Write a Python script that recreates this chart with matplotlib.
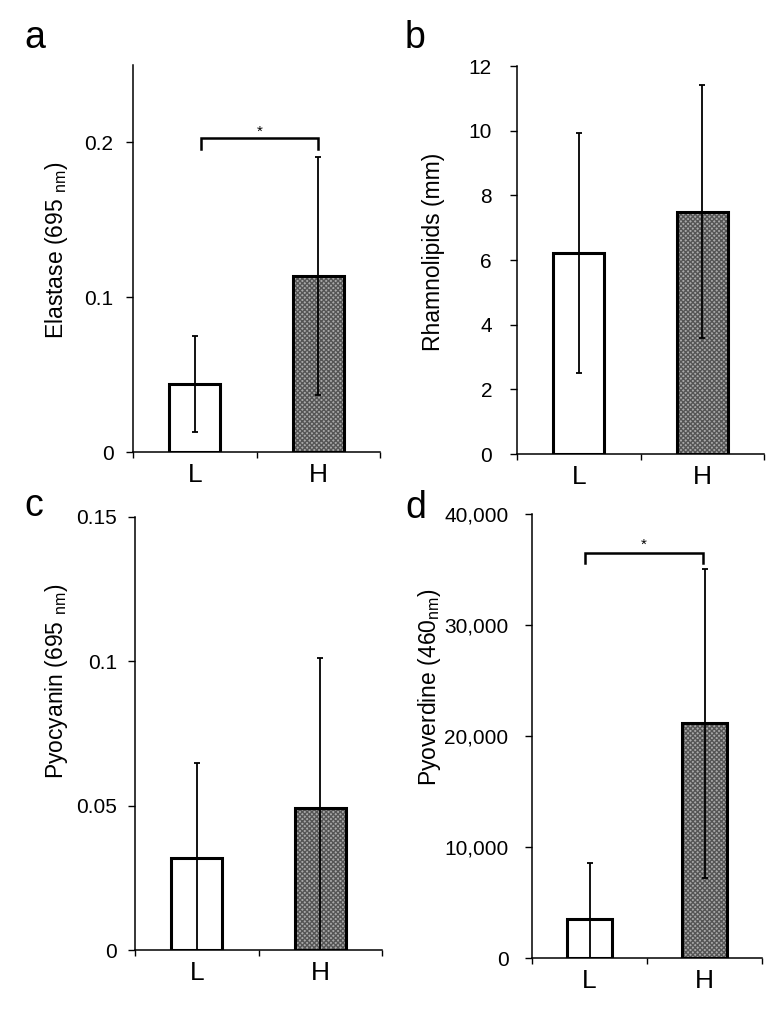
import numpy as np
import matplotlib
matplotlib.use('Agg')
import matplotlib.pyplot as plt
from matplotlib.ticker import FuncFormatter

plt.rcParams['font.family'] = ['Liberation Sans', 'DejaVu Sans']
plt.rcParams['mathtext.default'] = 'regular'

# --- data ---
groups = ['L', 'H']
elastase_mean = [0.0442, 0.1135]
elastase_err = [0.031, 0.077]
rhamno_mean = [6.22, 7.49]
rhamno_err = [3.7, 3.91]
pyocyanin_mean = [0.0319, 0.0492]
pyocyanin_err = [0.0329, 0.052]
pyoverdine_mean = [3514, 21150]
pyoverdine_err = [5050, 13900]

# height of the significance brackets
elastase_sig = 0.2026
pyoverdine_sig = 36500

W, H = 782, 1023
fig = plt.figure(figsize=(W / 100, H / 100), dpi=100)


def make_ax(left, right, top, bottom):
    return fig.add_axes([left / W, 1 - bottom / H, (right - left) / W, (bottom - top) / H])


def draw_panel(ax, means, errs, width, ypad):
    x = np.arange(len(groups))
    # L bar is white, H bar has grey dotted fill
    ax.bar(x[0], means[0], width, color='white', edgecolor='black', linewidth=2.2, zorder=2)
    ax.bar(x[1], means[1], width, color='#a8a8a8', edgecolor='#555555', hatch='xxxxxxx',
           linewidth=0, zorder=2)
    ax.bar(x[1], means[1], width, fill=False, edgecolor='black', linewidth=2.2, zorder=3)
    ax.errorbar(x, means, yerr=errs, fmt='none', ecolor='black', elinewidth=1.3,
                capsize=2.5, capthick=1.3, zorder=4)
    ax.set_xlim(-0.5, 1.5)
    ax.set_xticks([-0.5, 0.5, 1.5])
    ax.set_xticklabels([])
    ax.set_xticks(x, minor=True)
    ax.set_xticklabels(groups, minor=True, fontsize=19)
    ax.tick_params(axis='x', which='major', direction='out', length=4, width=1)
    ax.tick_params(axis='x', which='minor', length=0, pad=8)
    ax.tick_params(axis='y', direction='out', length=5, width=1, labelsize=15, pad=ypad)
    for s in ['top', 'right']:
        ax.spines[s].set_visible(False)
    for s in ['left', 'bottom']:
        ax.spines[s].set_linewidth(1.1)


def bracket(ax, x0, x1, y, drop, star_off):
    ax.plot([x0, x0, x1, x1], [y - drop, y, y, y - drop], color='black', linewidth=1.8,
            solid_joinstyle='miter', clip_on=False, zorder=5)
    ax.text((x0 + x1) / 2, y + star_off, '*', ha='center', va='bottom', fontsize=11)


# a - Elastase
ax_a = make_ax(133, 380, 65, 452)
draw_panel(ax_a, elastase_mean, elastase_err, 0.41, 9)
ax_a.set_ylim(0, 0.25)
ax_a.set_yticks([0, 0.1, 0.2])
ax_a.set_yticklabels(['0', '0.1', '0.2'])
ax_a.set_ylabel('Elastase (695 $_{nm}$)', fontsize=16.5)
ax_a.yaxis.set_label_coords(-0.255, 0.52)
bracket(ax_a, 0.05, 1.0, elastase_sig, 0.007, 0.0)

# b - Rhamnolipids
ax_b = make_ax(517, 764, 66, 454)
draw_panel(ax_b, rhamno_mean, rhamno_err, 0.41, 13)
ax_b.set_ylim(0, 12)
ax_b.set_yticks(np.arange(0, 13, 2))
ax_b.set_ylabel('Rhamnolipids (mm)', fontsize=16.5)
ax_b.yaxis.set_label_coords(-0.29, 0.52)

# c - Pyocyanin
ax_c = make_ax(135, 382, 517, 950)
draw_panel(ax_c, pyocyanin_mean, pyocyanin_err, 0.41, 8)
ax_c.set_ylim(0, 0.15)
ax_c.set_yticks([0, 0.05, 0.1, 0.15])
ax_c.set_yticklabels(['0', '0.05', '0.1', '0.15'])
ax_c.set_ylabel('Pyocyanin (695 $_{nm}$)', fontsize=16.5)
ax_c.yaxis.set_label_coords(-0.262, 0.62)

# d - Pyoverdine
ax_d = make_ax(532, 762, 514, 958)
draw_panel(ax_d, pyoverdine_mean, pyoverdine_err, 0.39, 12)
ax_d.set_ylim(0, 40000)
ax_d.set_yticks(np.arange(0, 40001, 10000))
ax_d.yaxis.set_major_formatter(FuncFormatter(lambda v, p: f'{int(v):,}'))
ax_d.set_ylabel('Pyoverdine (460$_{nm}$)', fontsize=16.5)
ax_d.yaxis.set_label_coords(-0.388, 0.61)
bracket(ax_d, -0.04, 0.99, pyoverdine_sig, 900, 100)

# panel letters
for lbl, px, py in [('a', 24, 48), ('b', 405, 48), ('c', 24, 516), ('d', 405, 518)]:
    fig.text(px / W, 1 - py / H, lbl, fontsize=27, ha='left', va='baseline')

fig.savefig('out.png', dpi=100)
